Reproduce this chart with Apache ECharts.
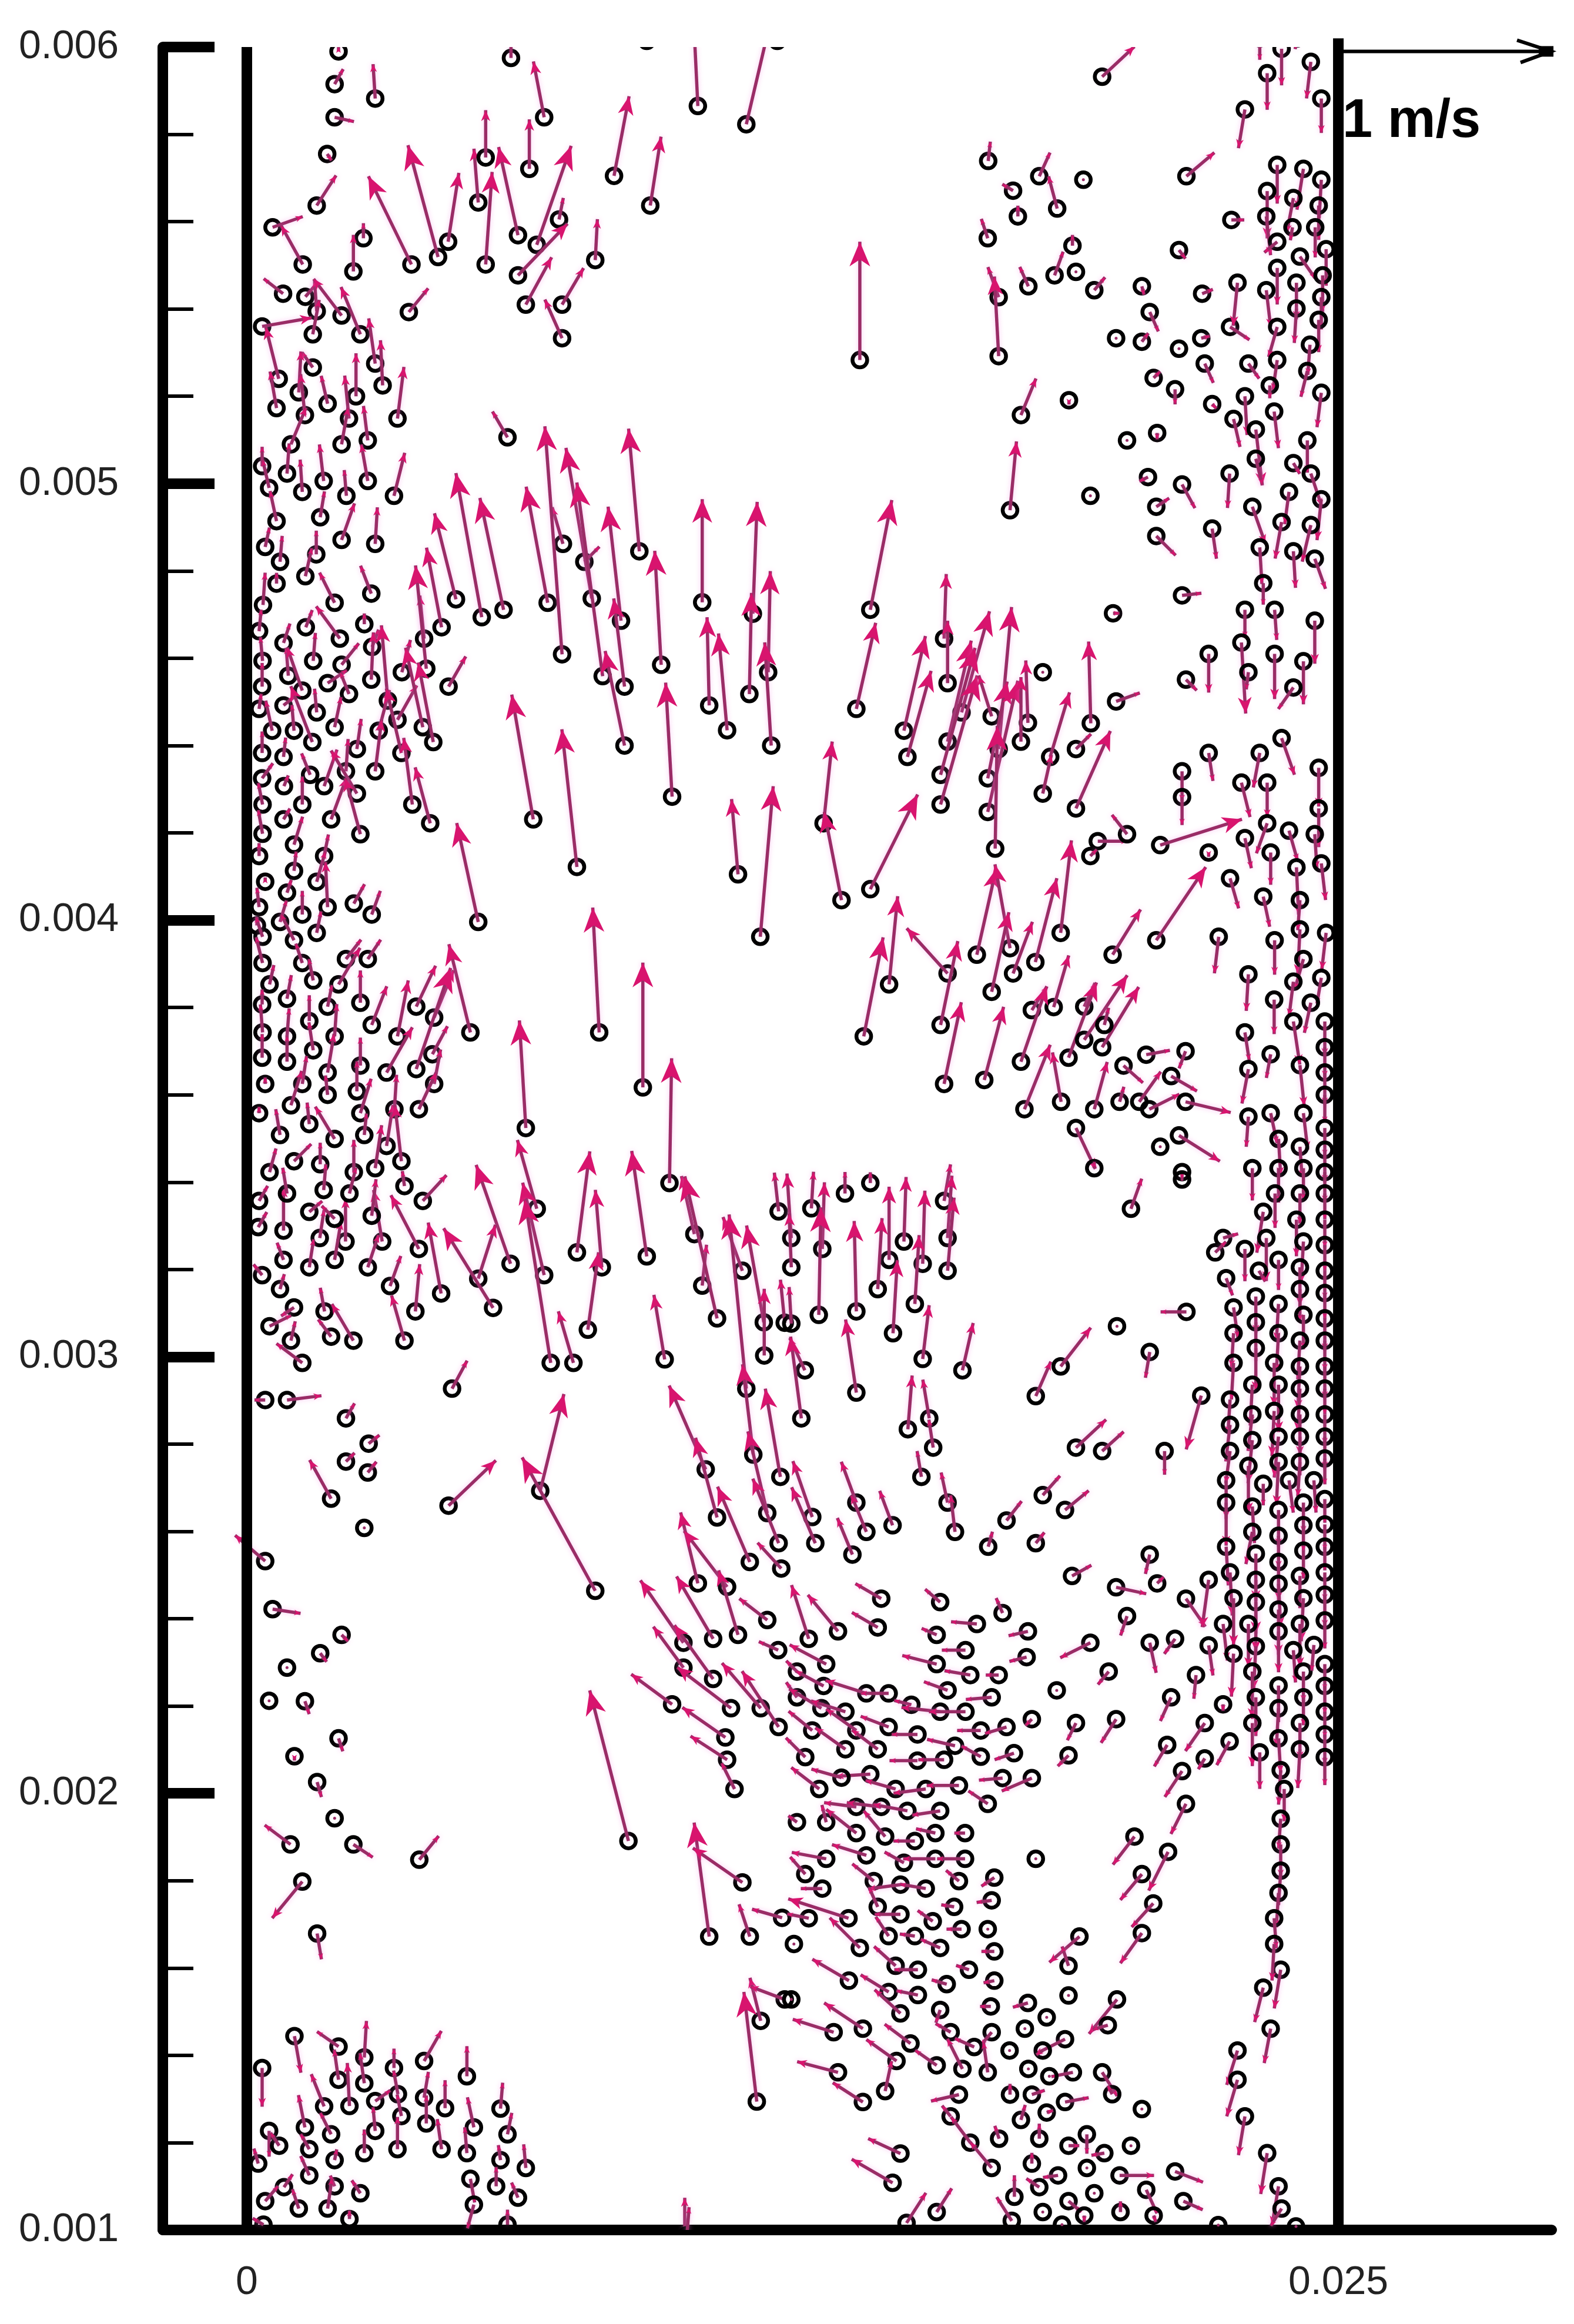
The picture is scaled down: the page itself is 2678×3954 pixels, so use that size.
<!DOCTYPE html>
<html>
<head>
<meta charset="utf-8">
<title>particle velocity</title>
<script src="https://cdn.jsdelivr.net/npm/echarts@6/dist/echarts.min.js"></script>
<style>
  html, body { margin: 0; padding: 0; background: #fff; }
  #chart { width: 2678px; height: 3954px; }
</style>
</head>
<body>
<div id="chart"></div>
<script>
// tick labels
const yTicks = [0.001, 0.002, 0.003, 0.004, 0.005, 0.006];
const xTicks = [0, 0.025];

// particles: [x (mm), y (mm), u (m/s), v (m/s)], read region by region
const upperLeft = [
[2.10,5.99,0,.02],[2.01,5.915,.04,.07],[2.94,5.882,-.01,.16],[2.01,5.839,.09,-.02],[1.84,5.755,.02,-.03],[1.6,5.637,.09,.14],[.59,5.587,.14,.05],[1.28,5.502,-.10,.18],[2.67,5.562,0,.07],[2.44,5.486,0,.17],[3.77,5.502,-.20,.41],[4.38,5.519,-.14,.52],[4.61,5.554,.05,.32],[5.47,5.502,.03,.43],[5.3,5.644,-.02,.25],[5.47,5.747,0,.22],[6.21,5.569,-.09,.41],[6.47,5.721,0,.23],[6.81,5.839,-.05,.26],[6.05,5.975,0,.10],[6.64,5.547,.16,.46],[7.15,5.605,.02,.10],[6.21,5.477,.23,.24],[7.98,5.512,.01,.19],[8.41,5.705,.07,.37],[9.24,5.637,.05,.32],[10.33,5.865,-.02,.41],[11.44,5.823,.11,.47],[9.16,6.014,0,0],[12.15,6.014,0,0],[6.39,5.41,.12,.22],[7.22,5.41,.10,.17],[7.22,5.333,-.08,.18],[3.71,5.393,.09,.11],[.83,5.435,-.09,.07],[1.34,5.428,.06,.07],[1.6,5.395,-.01,.14],[2.17,5.385,-.13,.17],[.35,5.36,.23,.04],[1.51,5.342,.03,.16],[2.6,5.342,-.09,.22],[1.51,5.266,-.05,.07],[2.94,5.275,-.03,.21],[.73,5.24,-.06,.24],[1.19,5.209,.01,.19],[1.85,5.183,-.03,.13],[2.5,5.2,0,.2],[3.11,5.225,-.01,.21],[.68,5.173,-.03,.17],[1.33,5.157,-.02,.19],[2.34,5.149,-.02,.2],[3.45,5.149,.03,.24],[1.01,5.09,.07,.17],[2.17,5.09,.03,.17],[2.77,5.099,-.02,.16],[5.97,5.106,-.07,.12],[.35,5.04,0,.09],[.92,5.023,.01,.14],[.51,4.99,-.03,.13],[1.27,4.981,-.01,.15],[1.76,5.006,-.02,.17],[2.77,5.006,-.03,.17],[3.37,4.972,.05,.2],[2.28,4.972,-.01,.12],[.68,4.914,-.03,.14],[1.68,4.923,.02,.12],[.42,4.855,.02,.09],[2.17,4.871,.06,.17],[2.94,4.862,.01,.17],[.76,4.821,.01,.12],[1.59,4.838,0,.11],[1.34,4.788,.03,.13],[.68,4.771,0,.05],[7.24,4.862,-.05,.17],[8.99,4.845,-.05,.57],[7.73,4.821,.07,.07]
];
const upperRight = [
[19.59,5.932,.15,.14],[23.7,5.996,0,-.17],[24.37,5.966,-.02,-.17],[23.37,5.94,0,-.17],[24.61,5.882,0,-.16],[22.86,5.857,-.03,-.18],[23.2,6.02,0,-.1],[24.06,6.02,-.01,-.05],[16.98,5.739,.01,.09],[18.15,5.704,.05,.11],[19.16,5.696,0,0],[21.52,5.704,.13,.11],[17.55,5.671,-.05,.03],[18.56,5.63,-.04,.15],[17.66,5.612,0,.05],[16.97,5.562,-.03,.09],[18.91,5.545,0,.05],[18.5,5.477,.04,.11],[18.99,5.485,0,0],[17.9,5.452,-.04,.09],[19.41,5.443,.05,.06],[17.22,5.427,-.05,.14],[20.5,5.452,.01,-.04],[14.04,5.283,0,.55],[17.22,5.292,-.02,.37],[20.68,5.393,.04,-.09],[19.91,5.333,0,0],[20.5,5.325,.03,.04],[21.86,5.333,.04,.01],[21.35,5.535,.03,-.04],[22.55,5.604,.06,0],[21.88,5.435,.05,.02],[22.52,5.359,.09,-.06],[21.35,5.309,0,0],[22.69,5.46,-.02,-.2],[21.94,5.275,.04,-.09],[22.94,5.275,.05,-.07],
[23.6,5.73,0,-.18],[24.2,5.721,-.03,-.19],[24.61,5.696,-.01,-.18],[23.37,5.67,0,-.22],[23.97,5.654,-.03,-.16],[24.55,5.637,0,-.16],[23.35,5.612,.02,-.18],[23.95,5.587,-.01,-.06],[24.47,5.587,0,-.14],[23.6,5.554,-.06,-.05],[24.72,5.537,0,-.17],[24.12,5.52,.07,-.10],[23.6,5.494,0,-.17],[24.64,5.477,0,-.17],[23.35,5.443,.02,-.17],[24.04,5.46,0,-.17],[24.61,5.427,0,-.15],[24.04,5.401,-.01,-.16],[24.55,5.375,0,-.15],[23.6,5.359,-.04,-.14],[24.35,5.318,-.01,-.14],[24.29,5.258,-.03,-.12],[23.6,5.283,-.02,-.14],[23.43,5.225,0,-.06],[24.61,5.208,-.02,-.16],[22.86,5.2,.01,-.18],[23.53,5.165,.02,-.17],[22.6,5.148,.03,-.13],[23.11,5.124,.03,-.26],[23.11,5.057,.03,-.12],[20.77,5.242,.03,.03],[21.26,5.216,0,-.07],[22.11,5.182,.02,-.02],[18.83,5.191,0,-.02],[17.73,5.157,.07,.17],[20.16,5.099,0,0],[20.85,5.116,0,-.03],[24.29,5.099,0,-.15],[23.97,5.047,.03,-.05],[24.37,5.023,.05,-.15],[20.64,5.015,-.04,-.02],[21.42,4.998,.06,-.11],[22.51,5.023,-.01,-.16],[19.32,4.972,0,0],[17.48,4.939,.03,.32],[20.83,4.947,.06,.04],[23.03,4.947,.06,-.17],[23.87,4.981,-.02,-.15],[24.61,4.964,-.02,-.19],[23.7,4.912,-.03,-.17],[24.37,4.905,-.04,-.17],[22.11,4.897,.02,-.14],[20.83,4.88,.09,-.09],[23.2,4.854,.01,-.17],[23.97,4.845,.01,-.17],[24.46,4.828,.05,-.14],[23.28,4.772,0,-.1]
];
const midLeft = [
[5.38,4.694,-.12,.67],[5.88,4.711,-.11,.52],[6.89,4.727,-.10,.54],[7.9,4.737,-.12,.7],[8.57,4.686,-.06,.53],[7.22,4.609,-.08,1.06],[8.15,4.559,-.12,.90],[8.65,4.535,-.05,.41],[9.49,4.585,-.03,.53],[10.43,4.728,0,.48],[10.59,4.492,-.01,.41],[11.59,4.702,.02,.52],[11.51,4.518,.01,.47],[11.0,4.435,-.04,.45],[11.94,4.568,.01,.47],[12.01,4.4,-.03,.48],[8.65,4.4,-.09,.44],[6.56,4.231,-.10,.58],[7.56,4.122,-.07,.64],[9.74,4.283,-.03,.53],[11.25,4.105,-.03,.35],[11.76,3.962,.06,.70],[5.3,3.996,-.10,.46],[8.07,3.743,-.03,.58],[9.07,3.617,0,.58],[5.12,3.743,-.10,.41],[6.39,3.524,-.03,.50],
[.37,4.722,.01,.15],[2.01,4.727,-.07,.14],[2.85,4.748,-.05,.13],[4.79,4.735,-.10,.40],[4.46,4.671,-.07,.37],[4.06,4.645,-.02,.2],[4.11,4.576,-.05,.48],[3.55,4.568,.04,.15],[2.87,4.626,.03,.08],[2.69,4.678,0,.05],[2.13,4.645,-.11,.15],[1.35,4.671,.03,.08],[.84,4.635,.03,.09],[.28,4.662,.01,.1],[.36,4.594,-.01,.11],[1.52,4.594,.01,.13],[2.17,4.585,.08,.1],[.95,4.56,-.01,.13],[.35,4.535,0,.11],[1.85,4.543,.09,.06],[2.85,4.551,.01,.22],[4.62,4.535,.08,.14],[2.34,4.518,-.04,.1],[1.27,4.526,-.07,.2],[3.23,4.503,-.03,.35],[.28,4.484,.01,.07],[.84,4.492,.05,.04],[1.6,4.476,-.01,.11],[.58,4.434,-.03,.14],[1.08,4.434,-.01,.12],[2.01,4.442,.03,.14],[3.02,4.434,.05,.19],[3.45,4.459,.09,.16],[4.03,4.442,-.08,.37],[4.27,4.408,-.07,.37],[1.5,4.408,-.10,.26],[.35,4.383,0,.1],[.84,4.374,.01,.09],[2.52,4.392,.02,.14],[3.54,4.383,-.07,.3],[2.94,4.341,.03,.24],[1.45,4.333,-.04,.1],[.35,4.325,.05,.07],[2.27,4.341,.01,.15],[.85,4.307,.02,.05],[1.77,4.307,.06,.17],[2.52,4.29,-.12,.2],[.36,4.265,-.02,.1],[1.27,4.265,0,.13],[3.79,4.265,-.04,.31],[.84,4.231,.03,.05],[1.93,4.231,.07,.19],[4.2,4.222,-.07,.26],[2.6,4.197,-.07,.26],[.36,4.198,-.02,.11],[1.08,4.173,.04,.13],[.28,4.147,0,.06],[1.77,4.147,.02,.1],[1.08,4.113,.01,.09],[.42,4.088,0,.02],[1.6,4.088,.04,.14],[.92,4.063,.02,.06],[.28,4.03,-.01,.09],[2.45,4.038,.05,.09],[1.85,4.03,-.01,.21],[1.27,4.013,0,.11],[2.86,4.013,.04,.11],[.76,3.996,.03,.1],[.23,3.988,0,.04],[1.6,3.971,.02,.1],[.36,3.962,-.03,.09],[1.08,3.954,-.06,.12],[.36,3.902,-.03,.12],[1.27,3.902,-.03,.09],[2.27,3.911,.07,.09],[2.77,3.911,.06,.09],[.52,3.853,.02,.09],[1.52,3.862,-.02,.1],[2.1,3.853,.1,.17],[.92,3.82,.02,.11],[2.6,3.811,0,.15],[3.88,3.802,.09,.19],[1.85,3.802,.02,.1],[.35,3.807,0,.07],[4.29,3.777,.09,.22],[1.43,3.769,0,.12],[2.86,3.76,.07,.18],[.36,3.743,-.01,.13],[.92,3.734,.01,.13],[2.01,3.734,.01,.15],[3.45,3.734,.05,.26],[.35,3.685,0,.11],[1.52,3.702,-.02,.13],[.92,3.676,0,.12],[4.25,3.693,.07,.13],[2.6,3.667,0,.13],[3.2,3.651,.12,.21],[3.88,3.659,.16,.47],[1.85,3.651,.03,.18],[.42,3.625,0,.03],[1.27,3.625,.02,.13],[4.29,3.625,.03,.16],[2.52,3.608,0,.14],[1.85,3.6,-.01,.09],[1.01,3.576,.05,.16],[3.94,3.567,.08,.17],[3.38,3.567,.01,.16],[2.6,3.558,.05,.16],[.28,3.558,0,.03],[1.43,3.533,-.01,.1],[.76,3.508,-.02,.12],[2.69,3.508,.01,.1],[2.01,3.499,-.09,.15],[3.2,3.483,.03,.19],[3.54,3.448,-.03,.26],[1.08,3.448,.08,.08],[1.68,3.441,0,.1],[2.45,3.423,0,.15],[2.94,3.432,.03,.2],[.52,3.423,.03,.11]
];
const midRight = [
[14.28,4.711,.10,.51],[15.97,4.645,.01,.30],[13.96,4.484,.09,.40],[16.05,4.543,0,.29],[15.05,4.434,.10,.44],[15.13,4.374,.11,.40],[16.37,4.476,.13,.47],[16.05,4.409,.11,.47],[15.89,4.333,.16,.59],[15.89,4.265,.17,.6],[17.06,4.467,-.06,.19],[17.22,4.392,.06,.66],[16.97,4.325,.09,.45],[16.97,4.248,.14,.61],[17.89,4.452,-.01,.29],[17.73,4.409,0,.30],[17.14,4.164,.01,.57],[18.23,4.568,0,0],[19.33,4.451,-.01,.38],[18.99,4.392,.07,.07],[18.4,4.374,.09,.30],[18.23,4.29,.04,.18],[18.99,4.256,.16,.36],[19.84,4.703,.03,0],[19.91,4.501,.11,.04],[21.42,4.744,.09,.01],
[22.86,4.711,0,-.13],[23.54,4.711,.01,-.14],[24.46,4.686,0,-.2],[22.78,4.636,.02,-.33],[22.03,4.61,0,-.18],[23.54,4.61,0,-.21],[24.2,4.593,0,-.2],[22.94,4.568,-.01,-.08],[21.51,4.551,.05,-.05],[23.97,4.533,-.07,-.10],[23.7,4.417,.06,-.17],[22.03,4.383,.02,-.13],[23.2,4.383,-.03,-.16],[21.42,4.341,0,-.14],[22.78,4.315,.04,-.16],[23.37,4.315,0,-.16],[24.55,4.349,0,-.18],[21.42,4.282,0,-.13],[24.55,4.256,0,-.18],[23.37,4.222,-.05,-.14],[23.87,4.205,.04,-.14],[24.46,4.197,.01,-.16],[22.86,4.188,.03,-.14],[23.45,4.155,0,-.15],[22.03,4.155,0,-.02],[24.04,4.121,.01,-.22],[24.61,4.13,.02,-.17],[22.52,4.096,.04,-.14],[23.28,4.054,.03,-.14],[24.12,4.046,-.01,-.14],[24.12,3.979,-.01,-.21],[24.72,3.971,-.02,-.17],[22.26,3.962,-.02,-.17],[23.54,3.954,0,-.16],[24.2,3.911,-.04,-.14],[22.94,3.876,-.01,-.17],[23.97,3.859,-.02,-.16],[24.61,3.868,-.02,-.12],[23.53,3.818,0,-.16],[24.37,3.811,-.03,-.14],[23.97,3.768,.03,-.2],[24.69,3.768,0,-.16],[22.86,3.743,.02,-.13],[23.45,3.693,-.02,-.11],[24.69,3.709,0,-.14],[24.12,3.668,.02,-.19],[24.69,3.651,0,-.15],[22.94,3.659,-.03,-.16],[24.69,3.6,0,-.13],[22.94,3.55,-.01,-.14],[23.45,3.558,.03,-.14],[24.2,3.558,.02,-.17],[23.63,3.499,.01,-.17],[24.12,3.481,.01,-.14],[24.69,3.524,0,-.13],[24.69,3.474,0,-.15],[23.03,3.432,0,-.15],[23.63,3.432,0,-.16],[24.2,3.432,0,-.15],[24.69,3.423,0,-.14],[21.42,3.423,0,-.03],
[13.21,4.222,.04,.38],[13.62,4.046,-.08,.41],[14.28,4.071,.22,.44],[14.71,3.853,.04,.41],[14.13,3.734,.09,.46],[16.05,3.878,-.19,.21],[15.89,3.76,.08,.39],[16.72,3.921,.09,.40],[17.48,3.936,-.07,.39],[18.64,3.971,.05,.43],[18.06,3.904,.10,.39],[17.55,3.878,.09,.24],[17.06,3.836,.08,.37],[15.97,3.625,.08,.38],[16.89,3.634,.09,.34],[18.48,3.801,.07,.24],[17.98,3.794,.07,.11],[19.18,3.802,.05,.11],[17.73,3.676,.12,.35],[18.82,3.685,.13,.35],[19.18,3.726,.2,.3],[19.59,3.709,.17,.28],[19.64,3.76,.02,.08],[19.83,3.921,.13,.21],[20.83,3.954,.23,.34],[19.49,4.181,.14,0],[20.16,4.197,-.07,.09],[19.32,4.147,.03,.03],[20.92,4.172,.38,.12],[20.6,3.692,.11,.02],[21.5,3.7,-.03,-.08],[20.08,3.667,.09,-.08],[21.17,3.643,.12,-.07],[17.81,3.567,.12,.30],[18.65,3.584,-.04,.23],[19.41,3.567,.06,.22],[19.99,3.584,.02,.07],[20.44,3.584,.1,.14],[20.67,3.567,.14,.07],[21.5,3.584,.21,-.05],[18.99,3.524,.09,-.19],[21.35,3.507,.19,-.12],[20.92,3.481,0,0],[19.41,3.432,0,.03]
];
const lowerLeft = [
[6.64,3.339,-.09,.32],[9.68,3.398,.01,.58],[7.56,3.239,.06,.47],[9.16,3.23,-.07,.49],[6.04,3.213,-.16,.46],[6.81,3.187,-.10,.43],[8.13,3.205,-.03,.36],[5.3,3.179,.08,.25],[5.64,3.112,-.23,.37],[3.94,3.247,-.13,.25],[3.1,3.264,-.04,.24],[4.03,3.357,.11,.12],[3.61,3.391,-.01,.07],[2.86,3.323,.02,.17],[2.26,3.264,0,.2],[1.67,3.272,.02,.13],[2.01,3.222,.03,.18],[1.43,3.205,.02,.13],[2.77,3.205,.05,.15],[.84,3.289,0,.2],[1.43,3.332,.06,.05],[2.01,3.316,-.06,.06],[1.76,3.382,.01,.12],[2.35,3.374,.03,.12],[.92,3.374,-.02,.12],[.28,3.357,.04,.07],[.26,3.297,.04,.07],[.84,3.222,-.03,.08],[.35,3.187,-.04,.05],[.76,3.155,.02,.07],[3.28,3.162,.05,.14],[4.45,3.145,-.06,.33],[3.86,3.104,.02,.22],[1.08,3.113,-.06,-.04],[1.78,3.104,-.02,.11],[.52,3.07,.1,.05],[1.93,3.046,-.06,.08],[2.44,3.037,-.1,.17],[1.01,3.037,.02,.09],[3.61,3.037,-.06,.21],[1.27,2.986,-.12,.09],[6.96,2.986,-.12,.76],[7.48,2.986,-.07,.24],[7.81,3.062,.05,.36],[9.57,2.994,-.05,.30],[4.7,2.927,.07,.13],[.42,2.901,-.05,0],[.92,2.901,.16,.02],[2.27,2.859,.04,.07],[2.79,2.801,.05,.04],[2.27,2.76,.04,.04],[2.77,2.735,.04,.05],[1.93,2.675,-.10,.18],[4.62,2.659,.22,.21],[6.72,2.693,.11,.45],[2.69,2.608,0,0],[.42,2.532,-.14,.12],[7.98,2.464,-.34,.62],[.59,2.422,.13,-.02],[2.17,2.363,.03,-.03],[1.68,2.321,.03,-.04],[.92,2.288,0,0],[.51,2.212,0,0],[1.33,2.211,.02,-.06],[2.1,2.126,.02,-.06],[1.09,2.085,0,-.02],
[10.25,3.281,-.06,.27],[11.35,3.197,-.09,.25],[10.43,3.163,.02,.19],[10.77,3.088,-.15,.66],[11.84,3.079,-.08,.45],[11.85,3.003,0,.31],[11.44,2.927,-.08,.81],[12.32,3.078,-.02,.2],[12.18,3.333,-.02,.18],[10.51,2.742,-.17,.39],[11.6,2.776,-.05,.42],[10.77,2.632,-.10,.37],[12.22,2.725,-.07,.41],[11.92,2.642,-.09,.38],[12.18,2.573,-.12,.3],[11.52,2.53,-.15,.35],[12.24,2.515,-.11,.12],[10.33,2.481,-.08,.33],[11.0,2.473,-.2,.26],[11.92,2.397,-.13,.1],[10.0,2.345,-.2,.29],[10.68,2.354,-.17,.29],[11.25,2.363,-.09,.3],[12.17,2.328,-.09,.04],[10.0,2.288,-.14,.19],[10.68,2.262,-.18,.25],[9.74,2.204,-.19,.14],[11.09,2.195,-.25,.19],[11.77,2.195,-.18,.21],[12.18,2.152,-.17,.26],[10.96,2.128,-.2,.14],[11.0,2.077,-.17,.11],[8.74,1.891,-.18,.70]
];
const lowerRight = [
[13.7,3.374,0,.1],[14.28,3.398,0,.05],[12.93,3.34,.01,.17],[15.97,3.357,.03,.17],[15.05,3.264,.01,.3],[16.05,3.272,.02,.29],[13.18,3.247,.01,.31],[12.47,3.272,-.02,.3],[14.71,3.222,0,.34],[15.48,3.213,.01,.34],[16.05,3.197,.03,.34],[14.45,3.155,.02,.33],[12.47,3.205,-.01,.25],[15.3,3.121,.02,.32],[13.1,3.096,.01,.5],[13.96,3.104,-.01,.42],[14.8,3.054,.02,.34],[12.47,3.076,-.01,.17],[15.48,2.995,.03,.25],[16.39,2.969,.05,.22],[12.78,2.969,-.07,.15],[13.96,2.918,-.05,.34],[12.7,2.859,-.05,.38],[15.14,2.834,.02,.25],[15.63,2.859,-.03,.18],[15.72,2.792,-.02,.13],[15.45,2.725,-.02,.12],[16.05,2.666,-.03,.14],[16.22,2.599,-.02,.17],[13.96,2.666,-.07,.19],[14.79,2.614,-.06,.16],[14.19,2.599,-.07,.17],[12.95,2.633,-.09,.26],[13.02,2.573,-.11,.26],[13.87,2.547,-.07,.17],[16.98,2.565,.02,.07],[18.07,2.573,.04,.05],[17.4,2.625,.07,.09],[18.23,2.683,.08,.09],[18.74,2.649,.11,.09],[18.99,2.792,.14,.13],[19.59,2.784,.1,.09],[21.02,2.784,0,-.11],[21.86,2.911,-.07,-.25],[18.07,2.91,.07,.16],[18.64,2.978,.14,.18],[19.93,3.07,0,0],[20.68,3.011,-.02,-.12],[21.52,3.103,-.12,0],[20.25,3.339,.05,.14],[21.42,3.406,0,0],[18.9,2.498,.09,.05],[19.91,2.472,.14,-.03],[20.85,2.481,.03,.03],[20.68,2.547,-.02,-.09],[21.51,2.446,.09,-.13],[22.03,2.489,-.03,-.22],[20.16,2.406,-.03,-.09],[19.32,2.345,-.14,-.07],[20.68,2.345,.03,-.14],[21.26,2.354,-.05,-.07],[22.03,2.339,.02,-.14],[19.74,2.279,-.05,-.06],[21.74,2.271,-.01,-.11],[18.55,2.236,0,0],[21.17,2.22,-.05,-.11],[22.36,2.204,0,-.03],[19.91,2.17,-.07,-.11],[18.99,2.161,-.04,-.08],[21.94,2.161,-.09,-.13],[21.08,2.111,-.06,-.1],[22.51,2.119,-.06,-.11],[17.98,2.17,-.03,-.03],[18.82,2.087,-.05,-.05],[21.94,2.08,-.03,-.05],
[14.53,2.446,-.12,.07],[15.88,2.438,-.07,.06],[17.31,2.413,-.03,.07],[13.54,2.371,-.14,.17],[14.45,2.38,-.12,.07],[16.72,2.388,-.12,.01],[15.8,2.363,-.07,.03],[17.89,2.371,-.09,-.02],[12.87,2.354,-.08,.25],[16.46,2.328,-.11,0],[17.86,2.312,-.08,-.02],[13.27,2.296,-.17,.09],[15.8,2.296,-.16,.04],[12.6,2.279,-.05,.05],[16.57,2.271,-.12,.02],[17.22,2.271,-.06,0],[13.21,2.246,-.13,.07],[16.05,2.236,-.11,.04],[14.19,2.229,-.19,.06],[14.7,2.229,-.13,0],[17.06,2.22,-.12,-.01],[12.6,2.22,-.05,.07],[15.22,2.203,-.08,.02],[13.16,2.195,-.15,.09],[13.71,2.187,-.16,.05],[15.88,2.187,-.18,.02],[16.46,2.187,-.17,0],[14.7,2.152,-.13,.05],[16.81,2.144,-.11,0],[17.4,2.152,-.1,-.03],[12.95,2.144,-.11,.09],[13.96,2.144,-.14,.1],[15.36,2.135,-.12,0],[13.71,2.101,-.14,.1],[14.45,2.101,-.12,.09],[16.22,2.109,-.13,.03],[17.57,2.092,-.09,-.03],[16.81,2.084,-.09,.05],[12.79,2.083,-.09,.09],[15.36,2.075,-.13,0],[15.97,2.077,-.12,0],
[23.55,3.374,0,-.16],[23.28,3.332,-.03,-.19],[23.35,3.272,0,-.2],[22.36,3.272,.07,.02],[22.18,3.239,.05,.05],[22.86,3.247,0,-.15],[23.18,3.197,.03,-.05],[23.87,2.717,.02,-.15],[24.44,2.717,.01,-.15],[23.28,2.709,0,-.1]
];
// the tightly packed columns running down beside the right wall
const wallColumnA = [
[22.43,3.18,.03,-.08],[22.6,3.113,.02,-.14],[22.6,3.054,-.01,-.16],[22.6,2.986,-.01,-.17],[22.52,2.902,-.01,-.16],[22.52,2.844,-.02,-.17],[22.52,2.784,-.02,-.15],[22.43,2.717,0,-.18],[22.43,2.666,0,-.2],[22.43,2.565,.01,-.18],[22.52,2.506,.01,-.2],[22.6,2.447,0,-.22],[22.36,2.388,.02,-.17],[22.6,2.32,-.01,-.2]
];
const wallColumnB = [
[23.11,3.138,0,-.17],[23.11,3.079,0,-.18],[23.11,3.02,0,-.2],[23.03,2.936,-.01,-.19],[23.03,2.868,-.02,-.17],[23.03,2.809,-.02,-.2],[22.94,2.75,0,-.22],[23.03,2.657,.01,-.17],[23.03,2.599,-.03,-.15],[23.11,2.549,0,-.22],[23.11,2.489,0,-.25],[23.11,2.438,0,-.23],[22.94,2.388,0,-.2],[23.11,2.337,-.01,-.2],[23.03,2.279,0,-.22],[23.11,2.22,0,-.18],[23.03,2.161,0,-.2],[23.2,2.094,0,-.17]
];
const wallColumnC = [
[23.63,3.222,0,-.14],[23.63,3.121,-.01,-.17],[23.63,3.054,-.01,-.18],[23.53,2.986,0,-.2],[23.63,2.936,0,-.22],[23.53,2.876,-.01,-.21],[23.63,2.817,-.02,-.19],[23.63,2.759,-.01,-.2],[23.63,2.649,0,-.17],[23.63,2.59,0,-.15],[23.63,2.53,0,-.18],[23.63,2.48,.01,-.2],[23.63,2.421,0,-.21],[23.63,2.371,0,-.19],[23.63,2.247,0,-.17],[23.63,2.195,-.01,-.18],[23.63,2.126,.01,-.16]
];
const wallColumnD = [
[24.12,3.374,0,-.14],[24.04,3.314,0,-.17],[24.2,3.264,-.01,-.19],[24.12,3.205,0,-.18],[24.12,3.155,0,-.15],[24.2,3.096,0,-.16],[24.12,3.037,-.01,-.18],[24.12,2.978,-.01,-.2],[24.12,2.927,-.01,-.2],[24.12,2.868,0,-.19],[24.12,2.817,0,-.18],[24.12,2.759,-.01,-.16],[24.2,2.666,0,-.14],[24.2,2.614,0,-.12],[24.2,2.556,0,-.13],[24.12,2.498,0,-.15],[24.2,2.447,-.01,-.2],[24.12,2.388,0,-.2],[23.97,2.328,.01,-.15],[24.2,2.279,0,-.14],[24.2,2.22,0,-.13],[24.12,2.161,0,-.17],[24.12,2.101,-.01,-.18]
];
const wallColumnE = [
[24.69,3.374,0,-.12],[24.69,3.314,0,-.13],[24.69,3.256,0,-.12],[24.69,3.197,0,-.13],[24.69,3.146,0,-.12],[24.69,3.088,0,-.15],[24.69,3.037,0,-.14],[24.69,2.978,0,-.15],[24.69,2.927,0,-.12],[24.69,2.868,0,-.14],[24.69,2.817,0,-.15],[24.69,2.767,0,-.12],[24.69,2.674,0,-.11],[24.69,2.616,0,-.12],[24.69,2.565,0,-.11],[24.69,2.506,0,-.13],[24.69,2.455,0,-.15],[24.69,2.396,0,-.13],[24.44,2.34,-.01,-.12],[24.69,2.296,0,-.12],[24.69,2.246,0,-.13],[24.69,2.187,0,-.12],[24.69,2.135,0,-.14],[24.69,2.083,0,-.13]
];
const bottomLeft = [
[1.61,2.026,.02,-.07],[2.01,1.943,0,0],[1.0,1.883,-.12,.09],[2.44,1.883,.09,-.06],[3.95,1.848,.09,.11],[1.27,1.798,-.14,-.17],[1.61,1.679,.02,-.12],[11.17,2.01,-.06,.12],[10.59,1.672,-.07,.53],[11.35,1.796,-.23,.16],[11.52,1.672,-.05,.15],[11.77,1.479,-.05,.2],[11.68,1.294,-.06,.51],[12.26,1.715,-.14,.04],[12.32,1.528,-.16,.06],
[1.09,1.444,.03,-.17],[2.1,1.42,-.1,.07],[.35,1.371,0,-.18],[2.69,1.395,.01,.17],[3.37,1.371,0,.09],[4.06,1.387,.08,.14],[2.1,1.344,-.02,.14],[5.04,1.352,0,.14],[2.69,1.336,-.02,.14],[3.46,1.311,-.02,.11],[4.06,1.303,.02,.12],[1.77,1.283,-.06,.15],[2.35,1.284,-.01,.2],[2.94,1.295,.07,.05],[4.54,1.279,0,.13],[5.81,1.278,.01,.12],[3.54,1.261,-.02,.1],[4.11,1.244,0,.13],[1.33,1.235,-.03,.15],[2.94,1.227,-.01,.11],[5.2,1.235,-.03,.14],[5.97,1.219,.02,.1],[.51,1.227,0,-.12],[1.93,1.219,-.05,.1],[.74,1.193,-.04,.06],[1.43,1.185,-.04,.07],[2.69,1.176,0,.11],[3.45,1.185,0,.15],[4.46,1.185,-.02,.14],[5.04,1.176,-.01,.12],[5.81,1.16,-.01,.07],[2.01,1.16,.01,.05],[.26,1.152,-.02,.07],[6.39,1.142,-.01,.11],[1.43,1.125,-.04,.09],[5.12,1.117,.02,-.11],[5.71,1.1,0,.09],[.85,1.098,.04,.06],[2.01,1.1,-.02,.05],[2.6,1.084,-.04,.06],[6.21,1.074,-.03,.07],[.42,1.066,.06,.07],[5.2,1.058,-.03,-.11],[1.19,1.049,-.03,.09],[1.85,1.049,.02,.14],[2.35,1.025,0,.04],[.38,1.012,-.05,.03],[5.97,1.012,0,.07],[10.03,.985,0,.18],[10.08,.988,.01,.13]
];
const bottomRight = [
[14.28,2.044,-.16,-.01],[13.62,2.036,-.14,.04],[13.11,2.01,-.13,.10],[14.86,2.01,-.14,.04],[15.55,2.01,-.15,-.02],[16.31,2.018,-.15,0],[17.31,2.035,-.11,-.01],[17.98,2.035,-.14,-.06],[16.97,1.976,-.09,.06],[13.96,1.969,-.15,.02],[14.53,1.969,-.16,.02],[15.13,1.96,-.16,.03],[15.88,1.96,-.13,-.02],[13.27,1.934,-.02,.08],[12.6,1.934,-.04,.03],[13.96,1.909,-.14,.11],[14.62,1.901,-.1,.12],[15.3,1.891,-.1,0],[15.77,1.909,-.09,.02],[16.45,1.909,-.05,0],[20.33,1.901,-.1,-.13],[21.1,1.866,-.09,-.18],[21.51,1.976,-.07,-.14],[21.42,2.051,-.08,-.12],[13.27,1.85,-.16,.03],[14.19,1.858,-.16,.05],[15.05,1.841,-.09,.05],[15.77,1.85,-.15,0],[16.45,1.85,-.13,0],[18.07,1.85,0,0],[20.5,1.815,-.1,-.12],[12.79,1.815,-.07,.08],[14.36,1.799,-.1,.08],[14.97,1.791,-.15,-.02],[15.55,1.782,-.12,.02],[16.31,1.799,-.06,.05],[17.12,1.807,-.06,-.04],[20.76,1.748,-.1,-.11],[13.18,1.782,-.1,0],[17.06,1.755,-.07,-.01],[16.2,1.74,-.06,.01],[14.45,1.74,-.04,.09],[14.97,1.723,-.12,0],[15.71,1.707,-.07,.05],[13.78,1.714,-.28,.09],[12.87,1.714,-.1,.02],[16.37,1.689,-.07,0],[16.97,1.689,0,0],[20.5,1.68,-.1,-.14],[19.07,1.672,-.14,-.12],[14.7,1.673,-.06,.09],[15.3,1.673,-.07,.01],[15.88,1.646,-.09,.04],[14.04,1.646,-.14,.14],[12.53,1.655,0,0],[17.12,1.638,-.06,0],[18.82,1.605,-.03,.09],[14.86,1.605,-.1,.09],[15.37,1.596,-.11,0],[16.54,1.596,-.06,.02],[23.68,1.596,-.03,-.18],[23.28,1.555,-.04,-.16],[13.79,1.571,-.17,.1],[16.03,1.563,-.07,.02],[17.12,1.571,-.05,-.01],[14.7,1.545,-.13,.08],[15.37,1.538,-.1,.02],[12.47,1.528,0,0],[18.82,1.537,0,0],[19.93,1.528,-.13,-.16],[17.04,1.512,-.05,0],[17.89,1.52,-.07,-.02],[18.32,1.487,0,0],[14.97,1.496,-.12,.11],[15.88,1.504,-.02,-.06],[19.72,1.469,-.07,-.02],[17.82,1.461,0,0],[23.45,1.461,-.03,-.16],[13.44,1.453,-.19,.06],[14.11,1.461,-.18,.12],[16.12,1.453,-.07,.04],[17.06,1.453,-.05,-.06],[15.2,1.427,-.12,.09],[18.74,1.437,-.14,-.07],[16.66,1.419,-.09,.04],[17.47,1.411,0,0],[18.23,1.411,-.03,-.02],[22.69,1.411,-.05,-.16],[14.88,1.387,-.14,.1],[15.8,1.377,-.1,.07],[16.39,1.369,-.07,.14],[16.97,1.361,-.02,.14],[17.9,1.369,0,0],[19.59,1.361,.07,-.11],[18.92,1.361,-.1,-.02],[13.54,1.361,-.19,.05],[18.38,1.352,0,0],[22.69,1.344,-.05,-.17],[14.62,1.318,.03,.14],[16.31,1.31,-.13,-.03],[17.48,1.31,0,.05],[17.98,1.31,.06,.02],[19.82,1.311,-.02,.04],[18.74,1.293,.11,.02],[14.11,1.293,-.14,.09],[20.5,1.277,0,0],[18.32,1.269,.03,.01],[16.12,1.26,-.04,.05],[17.73,1.252,.02,.07],[22.86,1.26,-.03,-.18],[19.24,1.219,0,-.09],[16.57,1.2,-.09,.12],[17.23,1.209,-.02,.06],[18.15,1.209,0,.07],[18.82,1.193,.05,0],[20.25,1.193,0,0],[19.64,1.176,-.06,-.01],[14.97,1.175,-.15,.07],[23.37,1.176,-.03,-.19],[17.06,1.142,-.1,.12],[17.98,1.152,0,.05],[19.24,1.142,0,0],[18.58,1.125,-.07,-.01],[19.99,1.125,.16,0],[21.26,1.134,.13,-.05],[18.15,1.098,-.06,.04],[23.63,1.1,-.03,-.18],[14.79,1.108,-.19,.11],[20.6,1.092,.05,-.11],[19.41,1.084,0,0],[17.58,1.076,0,.1],[21.45,1.066,.09,-.04],[18.82,1.066,.06,-.05],[23.7,1.049,-.05,-.08],[15.8,1.041,.07,.11],[18.23,1.041,0,0],[20.01,1.041,0,.05],[20.77,1.033,.01,-.03],[19.18,1.033,0,-.03],[15.11,1.016,.09,.14],[17.52,1.021,-.07,.11],[18.67,1.012,0,0],[22.25,1.011,0,0],[24.03,1.008,0,0],
[23.68,2.053,-.01,-.16],[23.76,2.01,0,-.15],[23.68,1.942,-.01,-.14],[23.68,1.883,0,-.15],[23.68,1.823,-.01,-.16],[23.63,1.772,-.01,-.16],[23.53,1.714,.01,-.14],[23.53,1.655,-.01,-.17]
];
const particleGroups = [upperLeft, upperRight, midLeft, midRight, lowerLeft, lowerRight, wallColumnA, wallColumnB, wallColumnC, wallColumnD, wallColumnE, bottomLeft, bottomRight];

// the 1 m/s key at the top of the right wall and the two walls of the channel
const referenceVector = [[0.025, 0.00599, 1, 0]];
const leftWall = [[0, 0.001], [0, 0.006]];
const rightWall = [[0.025, 0.001], [0.025, 0.00602]];

// 1 m/s in screen pixels, same length as the key arrow
const VECTOR_SCALE = 366;
const SHAFT_COLOR = '#9a2c66';
const HEAD_COLOR = '#d8146e';
const LABEL_FONT = '"Liberation Sans", Arial, sans-serif';

const particleData = particleGroups.flat().map(p => [p[0] / 1000, p[1] / 1000, p[2], p[3]]);

function renderParticle(params, api) {
    const c = api.coord([api.value(0), api.value(1)]);
    const dx = api.value(2) * VECTOR_SCALE;
    const dy = -api.value(3) * VECTOR_SCALE;
    const len = Math.sqrt(dx * dx + dy * dy);
    const children = [{
        type: 'circle',
        shape: { cx: c[0], cy: c[1], r: 12.5 },
        style: { fill: 'none', stroke: '#000', lineWidth: 6.5 }
    }];
    if (len < 3) {
        children.push({
            type: 'circle',
            shape: { cx: c[0], cy: c[1], r: 2.5 },
            style: { fill: SHAFT_COLOR }
        });
    } else {
        const tip = [c[0] + dx, c[1] + dy];
        const ux = dx / len, uy = dy / len;
        const headLen = Math.max(10, Math.min(42, len * 0.23));
        const headW = headLen * 0.42;
        const bx = tip[0] - ux * headLen, by = tip[1] - uy * headLen;
        children.push({
            type: 'line',
            shape: { x1: c[0], y1: c[1], x2: tip[0], y2: tip[1] },
            style: { stroke: SHAFT_COLOR, lineWidth: 5.5, shadowBlur: 8, shadowColor: 'rgba(245,130,225,0.45)' }
        });
        children.push({
            type: 'polygon',
            shape: { points: [
                tip,
                [bx - uy * headW, by + ux * headW],
                [tip[0] - ux * headLen * 0.72, tip[1] - uy * headLen * 0.72],
                [bx + uy * headW, by - ux * headW]
            ] },
            style: { fill: HEAD_COLOR }
        });
    }
    return { type: 'group', children: children };
}

function renderKeyArrow(params, api) {
    const c = api.coord([api.value(0), api.value(1)]);
    const tip = [c[0] + api.value(2) * VECTOR_SCALE, c[1]];
    return {
        type: 'group',
        children: [
            { type: 'line', shape: { x1: c[0], y1: c[1], x2: tip[0], y2: tip[1] }, style: { stroke: '#000', lineWidth: 6 } },
            { type: 'rect', shape: { x: tip[0] - 25, y: tip[1] - 9, width: 25, height: 18 }, style: { fill: '#000' } },
            { type: 'polyline', shape: { points: [[tip[0] - 62, tip[1] - 19], [tip[0] - 4, tip[1]], [tip[0] - 56, tip[1] + 19]] }, style: { stroke: '#000', lineWidth: 6, fill: 'none' } }
        ]
    };
}

const chart = echarts.init(document.getElementById('chart'), null, { renderer: 'canvas' });
chart.setOption({
    animation: false,
    backgroundColor: '#fff',
    grid: { left: 277, right: 38, top: 80, bottom: 160, containLabel: false },
    xAxis: {
        type: 'value',
        min: -0.001925,
        max: 0.029886,
        splitLine: { show: false },
        axisLine: { show: true, onZero: false, lineStyle: { color: '#000', width: 18 } },
        axisTick: { show: false },
        axisLabel: {
            customValues: xTicks,
            formatter: v => String(v),
            margin: 56,
            color: '#222',
            fontFamily: LABEL_FONT,
            fontSize: 68
        }
    },
    yAxis: {
        type: 'value',
        min: 0.001,
        max: 0.006,
        interval: 0.001,
        splitLine: { show: false },
        axisLine: { show: true, onZero: false, lineStyle: { color: '#000', width: 18 } },
        axisTick: { show: true, inside: true, length: 88, lineStyle: { color: '#000', width: 18 } },
        minorTick: { show: true, splitNumber: 5, length: 52, lineStyle: { color: '#000', width: 6 } },
        minorSplitLine: { show: false },
        axisLabel: {
            formatter: v => yTicks.find(t => Math.abs(t - v) < 1e-9).toFixed(3),
            margin: 245,
            align: 'left',
            padding: [0, 0, 20, 0],
            showMinLabel: true,
            showMaxLabel: true,
            color: '#222',
            fontFamily: LABEL_FONT,
            fontSize: 68
        }
    },
    series: [
        {
            type: 'custom',
            name: 'particles',
            coordinateSystem: 'cartesian2d',
            clip: true,
            data: particleData,
            encode: { x: 0, y: 1 },
            renderItem: renderParticle,
            z: 2
        },
        {
            type: 'line',
            data: leftWall,
            symbol: 'none',
            clip: false,
            lineStyle: { color: '#000', width: 18, cap: 'butt' },
            z: 3
        },
        {
            type: 'line',
            data: rightWall,
            symbol: 'none',
            clip: false,
            lineStyle: { color: '#000', width: 18, cap: 'butt' },
            z: 3
        },
        {
            type: 'custom',
            name: 'key',
            coordinateSystem: 'cartesian2d',
            clip: false,
            data: referenceVector,
            encode: { x: 0, y: 1 },
            renderItem: renderKeyArrow,
            z: 4
        }
    ],
    graphic: [{
        type: 'text',
        left: 2284,
        top: 162,
        z: 10,
        style: {
            text: '1 m/s',
            fill: '#000',
            font: 'bold 92px ' + LABEL_FONT
        }
    }]
});
</script>
</body>
</html>
